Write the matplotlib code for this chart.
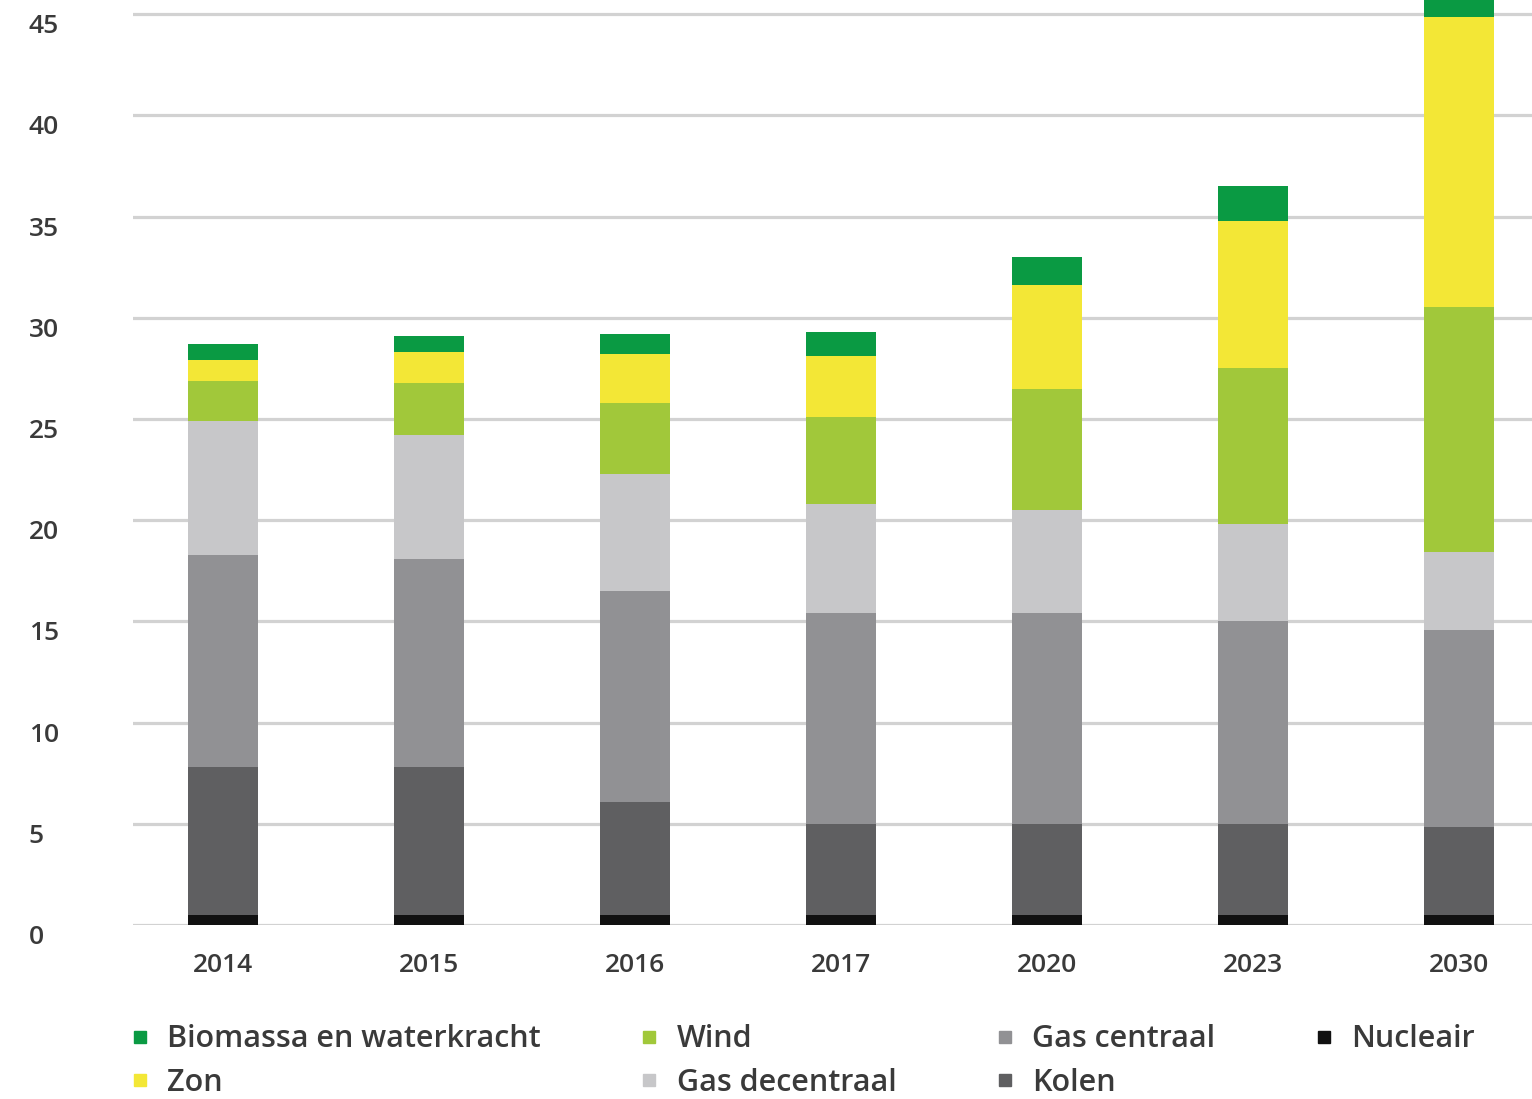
import matplotlib
matplotlib.use("Agg")
import matplotlib.pyplot as plt
import numpy as np
from matplotlib.lines import Line2D

years = ["2014", "2015", "2016", "2017", "2020", "2023", "2030"]
nucleair = [0.5, 0.5, 0.5, 0.5, 0.5, 0.5, 0.5]
kolen = [7.3, 7.3, 5.6, 4.5, 4.5, 4.5, 4.35]
gas_centraal = [10.5, 10.3, 10.4, 10.4, 10.4, 10.0, 9.7]
gas_decentraal = [6.6, 6.1, 5.8, 5.4, 5.1, 4.8, 3.9]
wind = [2.0, 2.6, 3.5, 4.3, 6.0, 7.7, 12.1]
zon = [1.0, 1.5, 2.4, 3.0, 5.1, 7.3, 14.3]
biomassa = [0.8, 0.8, 1.0, 1.2, 1.4, 1.7, 1.7]
yticks = [0, 5, 10, 15, 20, 25, 30, 35, 40, 45]

series = [
    ("Nucleair", nucleair, "#111111"),
    ("Kolen", kolen, "#5f5f61"),
    ("Gas centraal", gas_centraal, "#919194"),
    ("Gas decentraal", gas_decentraal, "#c7c7c9"),
    ("Wind", wind, "#a1c83a"),
    ("Zon", zon, "#f3e736"),
    ("Biomassa en waterkracht", biomassa, "#0a9a43"),
]

plt.rcParams['font.family'] = ['Open Sans', 'DejaVu Sans']
plt.rcParams['font.weight'] = 'semibold'
fig = plt.figure(figsize=(15.32, 10.99), dpi=100)
ax = fig.add_axes([133/1532, 174/1099, 1 - 133/1532, 1 - 174/1099])

x = np.arange(len(years))
bottom = np.zeros(len(years))
for name, vals, col in series:
    ax.bar(x, vals, width=0.34, bottom=bottom, color=col, zorder=3, linewidth=0)
    bottom += np.array(vals)

ax.set_xlim(-0.437, 6.354)
ax.set_ylim(0, 45.7)
ax.set_yticks(yticks)
ax.set_yticklabels([str(t) for t in yticks])
ax.set_xticks(x)
ax.set_xticklabels(years)
ax.yaxis.grid(True, color="#d2d2d2", linewidth=2.3, zorder=0)
ax.set_axisbelow(True)
for s in ax.spines.values():
    s.set_visible(False)
ax.tick_params(axis='both', length=0, labelsize=19, labelcolor="#3a3a3a")
ax.tick_params(axis='y', pad=75)
for lbl in ax.get_yticklabels():
    lbl.set_horizontalalignment('left')
    lbl.set_verticalalignment('top')
ax.tick_params(axis='x', pad=20)

order = ["Biomassa en waterkracht", "Zon", "Wind", "Gas decentraal", "Gas centraal", "Kolen", "Nucleair"]
cmap = {n: c for n, v, c in series}
handles = [Line2D([0], [0], marker='s', linestyle='none', markersize=9,
                  markerfacecolor=cmap[n], markeredgecolor=cmap[n]) for n in order]
fig.legend(handles, order, ncol=4, loc='upper left', bbox_to_anchor=(112/1532, 1 - 1009/1099),
           frameon=False, fontsize=22, labelcolor="#3a3a3a", handletextpad=0.5,
           columnspacing=3.15, labelspacing=0.45, handlelength=0.8, borderpad=0)

fig.savefig("out.png", dpi=100)
